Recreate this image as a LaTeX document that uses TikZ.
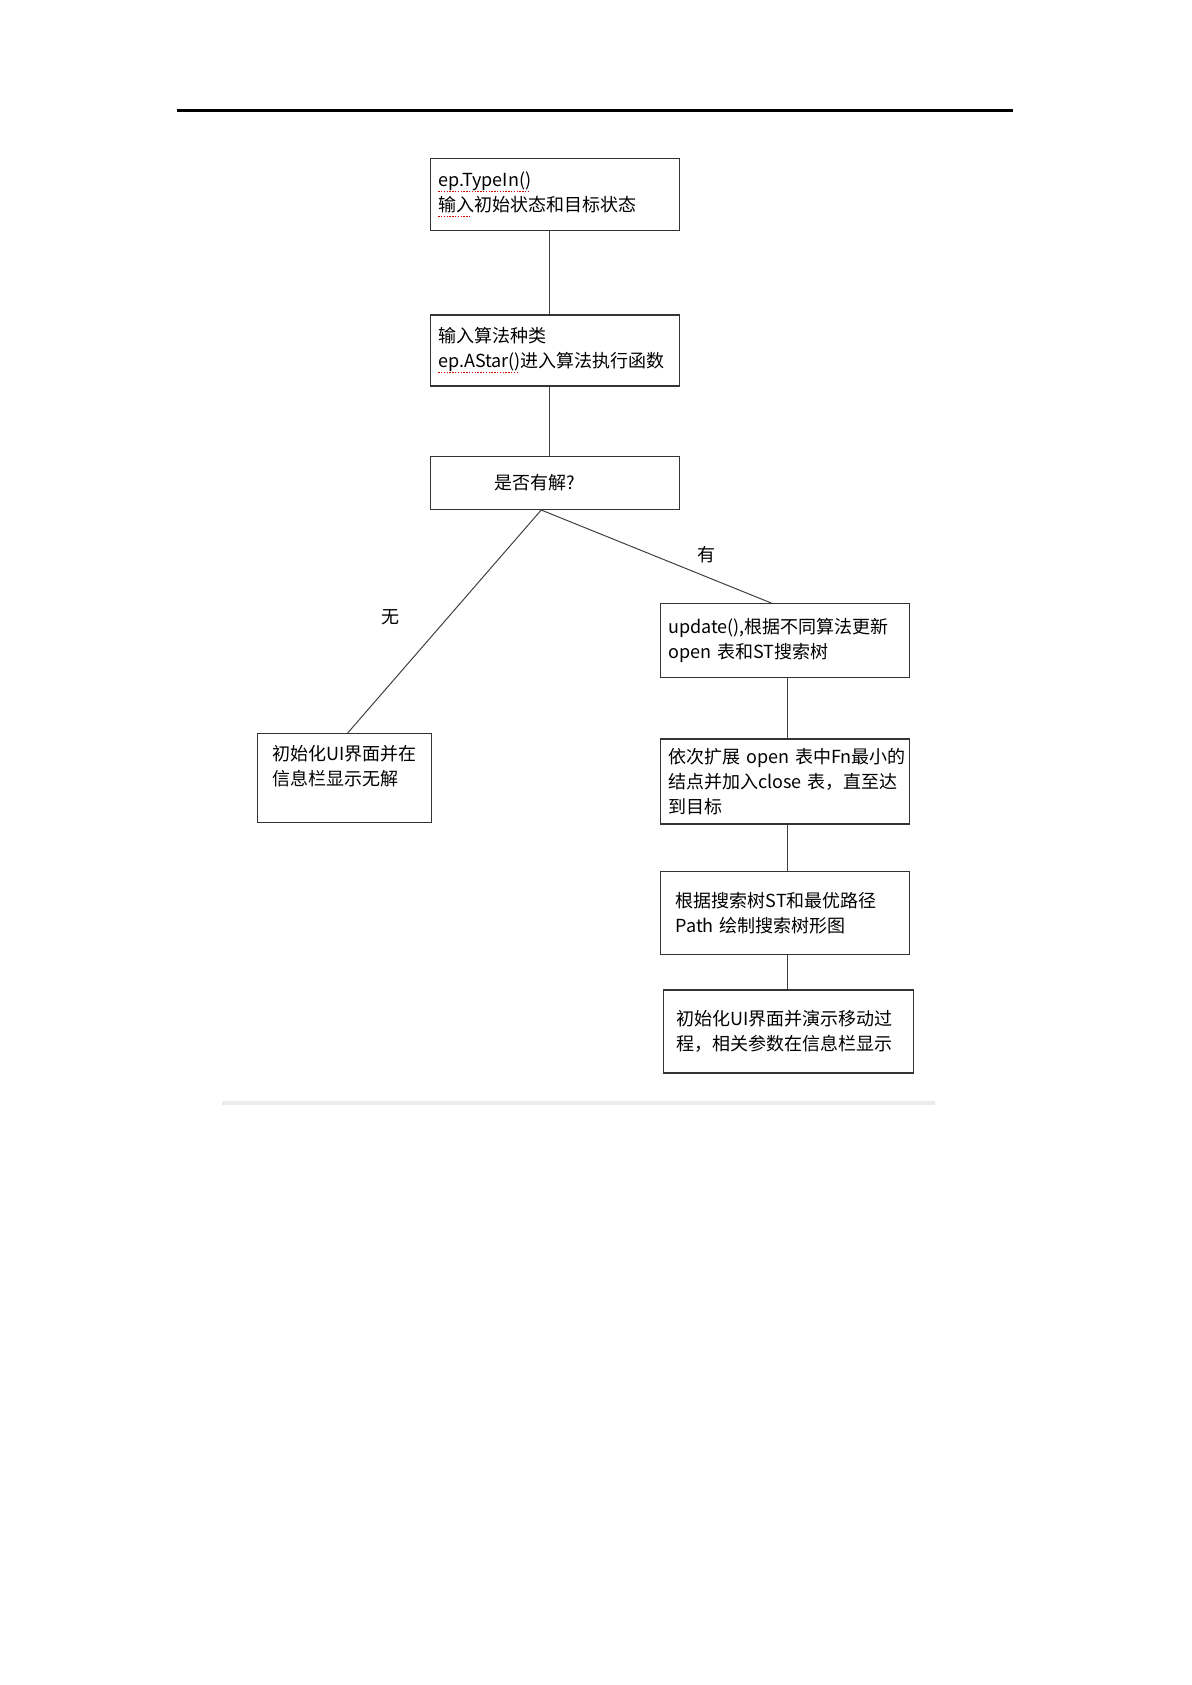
\documentclass[tikz,border=0pt]{standalone}
\usepackage{xcolor}
\usepackage{fontspec}
\setmainfont{Noto Sans CJK SC}
\usetikzlibrary{positioning,calc}
\newsavebox{\spellbox}
\newcommand{\spellmark}[1]{\mbox{\sbox{\spellbox}{#1}\rlap{\usebox{\spellbox}}\raisebox{-0.6ex}{\textcolor{red!85!black}{\leaders\hbox{\rule{0.7pt}{0.7pt}\kern0.7pt}\hskip\wd\spellbox}}}}

\begin{document}
\begin{tikzpicture}[x=0.5pt, y=-0.5pt,
        box/.style={rectangle, draw=black!80, line width=0.7pt, align=left, font=\fontsize{9}{12.5}\selectfont, inner ysep=0pt, inner xsep=3.75pt, text width=117pt},
        link/.style={draw=black!75, line width=0.5pt},
        label/.style={font=\fontsize{9}{11}\selectfont, inner sep=1pt},
      ]
      \useasboundingbox (0,0) rectangle (1192,1685);
      % page rules
      \draw [line width=1.5pt] (177,111) -- (1013,111);
      \draw [line width=2pt, black!8] (222,1103) -- (935,1103);

      \node [box, minimum height=36pt, anchor=north west] (typein) at (430,158) {\spellmark{ep.TypeIn()}\\\spellmark{输入}初始状态和目标状态};
      \node [box, minimum height=35.5pt, below=41.4pt of typein] (astar) {输入算法种类\\\spellmark{ep.AStar()}进入算法执行函数};
      \node [box, minimum height=26.5pt, inner xsep=32pt, text width=60.5pt, below=34.5pt of astar] (solvable) {是否有解?};
      \node [box, minimum height=44.5pt, inner xsep=7.5pt, text width=72pt, anchor=north west] (nosol) at (257,733) {初始化UI界面并在\\信息栏显示无解\\\mbox{}};
      \node [box, minimum height=37pt, anchor=north west] (update) at (660,603) {update(),根据不同算法更新\\open~表和ST搜索树};
      \node [box, minimum height=42.5pt, below=30pt of update] (expand) {依次扩展~open~表中Fn最小的\\结点并加入close~表，直至达\\到目标};
      \node [box, minimum height=41.5pt, inner xsep=7.5pt, text width=109.5pt, below=23pt of expand] (drawtree) {根据搜索树ST和最优路径\\Path~绘制搜索树形图};
      \node [box, minimum height=41.5pt, inner xsep=6.5pt, text width=112pt, below=17pt of drawtree, xshift=1.5pt] (animate) {初始化UI界面并演示移动过\\程，相关参数在信息栏显示};

      \coordinate (fork) at ([xshift=-7pt]solvable.south);
      \draw [link] ([xshift=-3pt]typein.south) -- ([xshift=-3pt]astar.north);
      \draw [link] ([xshift=-3pt]astar.south) -- ([xshift=-3pt]solvable.north);
      \draw [link] (fork) -- node [label, pos=0.48, left=23pt] {无} ([xshift=1.5pt]nosol.north);
      \draw [link] (fork) -- node [label, pos=0.72, above=6pt] {有} ([xshift=-7pt]update.north);
      \draw [link] ([xshift=1pt]update.south) -- ([xshift=1pt]expand.north);
      \draw [link] ([xshift=1pt]expand.south) -- ([xshift=1pt]drawtree.north);
      \draw [link] ([xshift=1pt]drawtree.south) -- ([xshift=1pt]drawtree.south |- animate.north);
    \end{tikzpicture}
\end{document}
